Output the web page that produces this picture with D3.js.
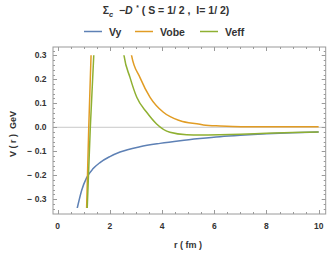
<!DOCTYPE html>
<html><head><meta charset="utf-8">
<script src="https://cdn.jsdelivr.net/npm/d3@7"></script>
<style>body{margin:0;background:#fff}svg{display:block}text{font-family:"Liberation Sans",Arial,sans-serif;font-weight:bold;fill:#333}</style>
</head><body>
<script>
// Data (r in fm, V in GeV); null splits branches
const seriesNames = ["Vy", "Vobe", "Veff"];
const colors = ["#5E81B5", "#E19C24", "#8FB032"];
const vyR   = [0.72, 0.75, 0.92, 1.11, 1.36, 1.62, 2.0, 2.39, 3.15, 3.92, 4.69, 5.45, 6.22, 7.0, 8.0, 9.0, 10.0];
const vyV   = [-0.35, -0.336, -0.262, -0.210, -0.172, -0.147, -0.122, -0.103, -0.081, -0.067, -0.056, -0.047, -0.039, -0.033, -0.027, -0.023, -0.020];
const vobeR = [1.10, 1.19, 1.29, null, 2.78, 2.83, 3.15, 3.54, 4.05, 4.69, 5.45, 5.58, 6.22, 6.7, 7.5, 8.5, 10.0];
const vobeV = [-0.37, 0.0, 0.34, null, 0.34, 0.30, 0.208, 0.125, 0.0625, 0.0275, 0.0125, 0.0096, 0.0054, 0.0035, 0.0025, 0.0022, 0.002];
const veffR = [1.12, 1.25, 1.40, null, 2.49, 2.54, 2.77, 3.03, 3.41, 3.79, 4.30, 4.94, 5.46, 6.22, 7.0, 8.0, 9.0, 10.0];
const veffV = [-0.37, 0.0, 0.34, null, 0.34, 0.30, 0.208, 0.125, 0.0625, 0.014, -0.021, -0.031, -0.032, -0.031, -0.029, -0.025, -0.022, -0.020];
const xTicks = [0, 2, 4, 6, 8, 10];
const yTicks = [-0.3, -0.2, -0.1, 0.0, 0.1, 0.2, 0.3];
const yTickLabels = ["\u2212 0.3", "\u2212 0.2", "\u2212 0.1", "0.0", "0.1", "0.2", "0.3"];

const W = 335, H = 254;
const svg = d3.select("body").append("svg").attr("width", W).attr("height", H);
const x = d3.scaleLinear().domain([-0.18, 10.27]).range([53, 325.7]);
const y = d3.scaleLinear().domain([-0.3613, 0.3346]).range([214, 47]);
const fl = 53, fr = 325.7, ft = 47, fb = 214;

// zero grid line
svg.append("line").attr("x1", fl).attr("x2", fr).attr("y1", y(0)).attr("y2", y(0))
  .attr("stroke", "#c8c8c8").attr("stroke-width", 1);

// clip
svg.append("clipPath").attr("id", "clip").append("rect")
  .attr("x", fl).attr("width", fr - fl).attr("y", y(0.30)).attr("height", y(-0.336) - y(0.30));

const line = d3.line().defined(d => d[0] != null).x(d => x(d[0])).y(d => y(d[1])).curve(d3.curveMonotoneX);
const allR = [vyR, vobeR, veffR], allV = [vyV, vobeV, veffV];
const g = svg.append("g").attr("clip-path", "url(#clip)");
[0, 1, 2].forEach(i => {
  const pts = allR[i].map((r, k) => [r, allV[i][k]]);
  g.append("path").datum(pts).attr("d", line)
    .attr("fill", "none").attr("stroke", colors[i]).attr("stroke-width", 1.5);
});

// frame
svg.append("rect").attr("x", fl).attr("y", ft).attr("width", fr - fl).attr("height", fb - ft)
  .attr("fill", "none").attr("stroke", "#9a9a9a").attr("stroke-width", 1);

// ticks (inward), all four sides
const tk = svg.append("g").attr("stroke", "#9a9a9a").attr("stroke-width", 1);
d3.range(0, 10.01, 0.5).forEach(v => {
  const major = Math.abs(v / 2 - Math.round(v / 2)) < 1e-6;
  const L = major ? 4 : 2;
  const xx = Math.round(x(v)) + 0.5;
  tk.append("line").attr("x1", xx).attr("x2", xx).attr("y1", fb).attr("y2", fb - L);
  tk.append("line").attr("x1", xx).attr("x2", xx).attr("y1", ft).attr("y2", ft + L);
});
d3.range(-0.34, 0.3301, 0.02).forEach(v => {
  const major = Math.abs(v * 10 - Math.round(v * 10)) < 1e-6;
  const L = major ? 4 : 2;
  const yy = Math.round(y(v)) + 0.5;
  tk.append("line").attr("x1", fl).attr("x2", fl + L).attr("y1", yy).attr("y2", yy);
  tk.append("line").attr("x1", fr).attr("x2", fr - L).attr("y1", yy).attr("y2", yy);
});

// tick labels
svg.append("g").selectAll("text").data(xTicks).join("text")
  .attr("x", d => x(d)).attr("y", 229).attr("text-anchor", "middle")
  .attr("font-size", 8.5).text(d => d);
svg.append("g").selectAll("text").data(yTicks).join("text")
  .attr("x", 46.5).attr("y", d => y(d) + 3).attr("text-anchor", "end")
  .attr("font-size", 8.5).text((d, i) => yTickLabels[i]);

// axis labels
svg.append("text").attr("x", 188).attr("y", 248).attr("text-anchor", "middle")
  .attr("font-size", 9).attr("xml:space", "preserve").text("r ( fm )");
svg.append("text").attr("transform", "translate(16,134) rotate(-90)").attr("text-anchor", "middle")
  .attr("font-size", 9).attr("xml:space", "preserve").text("V ( r )  GeV");

// title
const t = svg.append("text").attr("x", 166).attr("y", 14).attr("text-anchor", "middle")
  .attr("font-size", 10.5).attr("xml:space", "preserve");
t.append("tspan").text("\u03A3");
t.append("tspan").attr("font-size", 7.5).attr("dy", 2.5).attr("font-style", "italic").text("c");
t.append("tspan").attr("dy", -2.5).text("  \u2212");
t.append("tspan").attr("font-style", "italic").text("D");
t.append("tspan").attr("font-size", 6.5).attr("dy", -4).text("  *");
t.append("tspan").attr("dy", 4).text(" ( S = 1/ 2 ,  I= 1/ 2)");

// legend
const legX = [84, 135, 200];
seriesNames.forEach((n, i) => {
  svg.append("line").attr("x1", legX[i]).attr("x2", legX[i] + 18).attr("y1", 31.5).attr("y2", 31.5)
    .attr("stroke", colors[i]).attr("stroke-width", 1.5);
  svg.append("text").attr("x", legX[i] + 25).attr("y", 35.5).attr("font-size", 10.5).text(n);
});
</script>
</body></html>
